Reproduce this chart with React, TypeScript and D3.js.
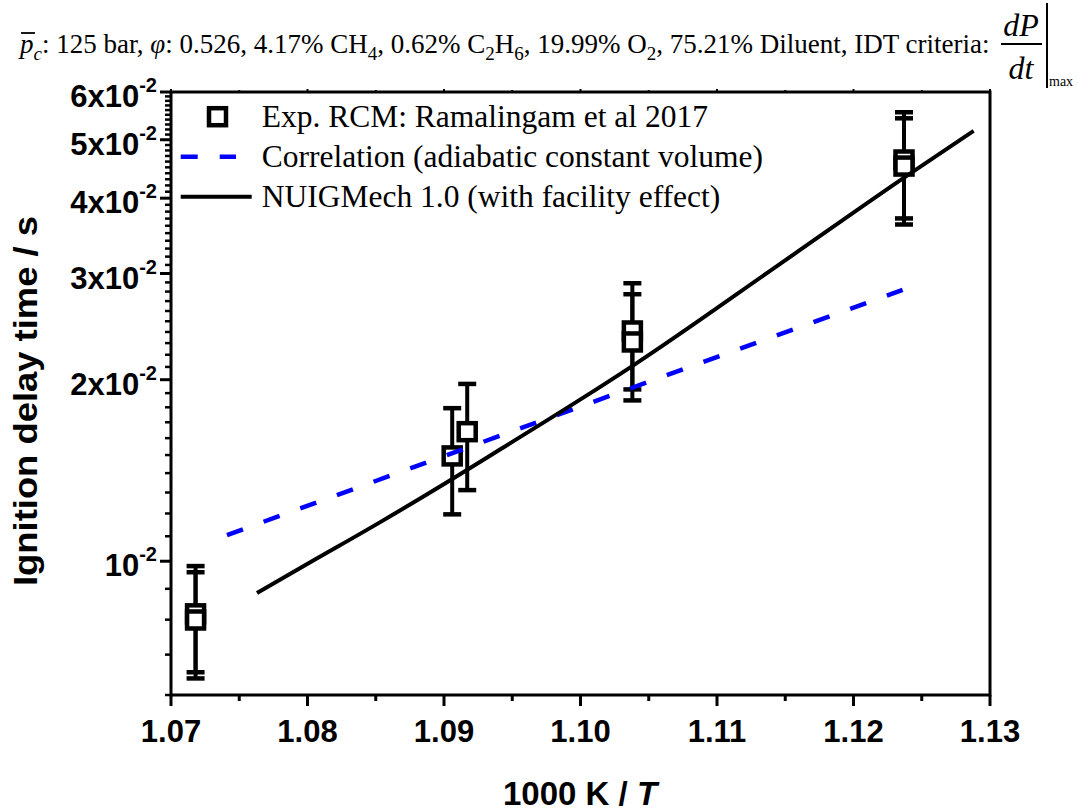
import React from 'react';
import * as d3 from 'd3';

// ---------- data ----------
const expX = [1.0718, 1.0718, 1.0906, 1.0917, 1.1038, 1.1038, 1.1237, 1.1237];
const expIDT = [0.00818, 0.00799, 0.01495, 0.0164, 0.02409, 0.0231, 0.04628, 0.04522];
const expRelErr = [0.2, 0.2, 0.2, 0.2, 0.2, 0.2, 0.2, 0.2];

const mechX = [1.0763, 1.0802, 1.0853, 1.0904, 1.0941, 1.1, 1.1039, 1.1146, 1.1236, 1.1288];
const mechIDT = [0.00886, 0.00996, 0.0116, 0.0136, 0.01532, 0.01855, 0.02115, 0.0311, 0.0431, 0.05171];

const corrX = [1.0741, 1.1003, 1.1236];
const corrIDT = [0.01105, 0.01816, 0.02818];

const xTicks = [1.07, 1.08, 1.09, 1.1, 1.11, 1.12, 1.13];
const xTickLabels = ['1.07', '1.08', '1.09', '1.10', '1.11', '1.12', '1.13'];
const xMinorTicks = [1.075, 1.085, 1.095, 1.105, 1.115, 1.125];
const yMajorTicks = [0.01, 0.02, 0.03, 0.04, 0.05, 0.06];
const yTickMantissa = ['', '2x', '3x', '4x', '5x', '6x'];
const yTickExp = '-2';

const legendLabels = [
  'Exp. RCM: Ramalingam et al 2017',
  'Correlation (adiabatic constant volume)',
  'NUIGMech 1.0 (with facility effect)',
];

const W = 1078;
const H = 812;
const L = 171, R = 990, T = 92, B = 695;

const serif = '"Liberation Serif", "Times New Roman", serif';
const sans = '"Liberation Sans", Arial, sans-serif';

export default function App() {
  const x = d3.scaleLinear().domain([1.07, 1.13]).range([L, R]);
  const y = d3.scaleLog().domain([0.006, 0.06]).range([B, T]);

  const yMinor = d3
    .range(6, 61)
    .map((i) => i / 1000)
    .filter((v) => !yMajorTicks.some((m) => Math.abs(m - v) < 1e-9));

  const mechLine = d3
    .line<number>()
    .x((_, i) => x(mechX[i]))
    .y((_, i) => y(mechIDT[i]))
    .curve(d3.curveMonotoneX);
  const corrLine = d3
    .line<number>()
    .x((_, i) => x(corrX[i]))
    .y((_, i) => y(corrIDT[i]));

  const sq = 17;
  const capW = 18;

  const titleSize = 27;
  const subSize = 19;

  return (
    <svg width={W} height={H} style={{ position: 'absolute', left: 0, top: 0, background: '#fff' }}>
      <rect x={0} y={0} width={W} height={H} fill="#fff" />
      {/* title */}
      <g fontFamily={serif} fill="#000">
        <text x={20} y={53} fontSize={titleSize}>
          <tspan fontStyle="italic">p</tspan>
          <tspan fontStyle="italic" fontSize={subSize} dy={7}>c</tspan>
          <tspan dy={-7}>: 125 bar, </tspan>
          <tspan fontStyle="italic">φ</tspan>
          <tspan>: 0.526, 4.17% CH</tspan>
          <tspan fontSize={subSize} dy={7}>4</tspan>
          <tspan dy={-7}>, 0.62% C</tspan>
          <tspan fontSize={subSize} dy={7}>2</tspan>
          <tspan dy={-7}>H</tspan>
          <tspan fontSize={subSize} dy={7}>6</tspan>
          <tspan dy={-7}>, 19.99% O</tspan>
          <tspan fontSize={subSize} dy={7}>2</tspan>
          <tspan dy={-7}>, 75.21% Diluent, IDT criteria:</tspan>
        </text>
        <line x1={21} x2={35} y1={33} y2={33} stroke="#000" strokeWidth={1.8} />
        <text x={1021} y={36} fontSize={32} fontStyle="italic" textAnchor="middle">dP</text>
        <line x1={1001} x2={1042} y1={44} y2={44} stroke="#000" strokeWidth={2} />
        <text x={1021} y={79} fontSize={32} fontStyle="italic" textAnchor="middle">dt</text>
        <line x1={1047} x2={1047} y1={3} y2={88} stroke="#000" strokeWidth={2} />
        <text x={1049} y={86} fontSize={14}>max</text>
      </g>

      {/* axes frame */}
      <rect x={L} y={T} width={R - L} height={B - T} fill="none" stroke="#000" strokeWidth={3} />

      {/* x ticks */}
      {xTicks.map((t, i) => (
        <g key={'xt' + i}>
          <line x1={x(t)} x2={x(t)} y1={B} y2={B + 11} stroke="#000" strokeWidth={3} />
          <line x1={x(t)} x2={x(t)} y1={T} y2={T - 3} stroke="#000" strokeWidth={2} />
          <text x={x(t)} y={742} fontFamily={sans} fontWeight="bold" fontSize={31} textAnchor="middle">
            {xTickLabels[i]}
          </text>
        </g>
      ))}
      {xMinorTicks.map((t, i) => (
        <g key={'xm' + i}>
          <line x1={x(t)} x2={x(t)} y1={B} y2={B + 6} stroke="#000" strokeWidth={3} />
          <line x1={x(t)} x2={x(t)} y1={T} y2={T - 2} stroke="#000" strokeWidth={2} />
        </g>
      ))}

      {/* y ticks */}
      {yMinor.map((t, i) => (
        <line key={'ym' + i} x1={L - 6} x2={L} y1={y(t)} y2={y(t)} stroke="#000" strokeWidth={2.5} />
      ))}
      {yMajorTicks.map((t, i) => (
        <g key={'yt' + i}>
          <line x1={L - 11} x2={L} y1={y(t)} y2={y(t)} stroke="#000" strokeWidth={3} />
          <text x={157} y={y(t) + 15} fontFamily={sans} fontWeight="bold" fontSize={31} textAnchor="end">
            <tspan>{yTickMantissa[i] + '10'}</tspan>
            <tspan fontSize={20} dy={-15}>{yTickExp}</tspan>
          </text>
        </g>
      ))}

      {/* axis titles */}
      <text x={580} y={805} fontFamily={sans} fontWeight="bold" fontSize={33} textAnchor="middle">
        <tspan>1000 K / </tspan>
        <tspan fontStyle="italic">T</tspan>
      </text>
      <text
        transform={`translate(37, 401) rotate(-90)`}
        fontFamily={sans}
        fontWeight="bold"
        fontSize={33}
        textAnchor="middle"
        textLength={370}
        lengthAdjust="spacingAndGlyphs"
      >
        Ignition delay time / s
      </text>

      {/* error bars */}
      <g stroke="#000" strokeWidth={4}>
        {expX.map((v, i) => {
          const cx = x(v);
          const yHi = y(expIDT[i] * (1 + expRelErr[i]));
          const yLo = y(expIDT[i] * (1 - expRelErr[i]));
          return (
            <g key={'eb' + i}>
              <line x1={cx} x2={cx} y1={yHi} y2={yLo} />
              <line x1={cx - capW / 2} x2={cx + capW / 2} y1={yHi} y2={yHi} strokeWidth={4.5} />
              <line x1={cx - capW / 2} x2={cx + capW / 2} y1={yLo} y2={yLo} strokeWidth={4.5} />
            </g>
          );
        })}
      </g>
      {/* squares */}
      {expX.map((v, i) => (
        <rect
          key={'sq' + i}
          x={x(v) - sq / 2}
          y={y(expIDT[i]) - sq / 2}
          width={sq}
          height={sq}
          fill="#fff"
          stroke="#000"
          strokeWidth={4.5}
        />
      ))}

      {/* lines */}
      <path d={corrLine(corrX) || ''} fill="none" stroke="#0000ff" strokeWidth={4.5} strokeDasharray="17 22" />
      <path d={mechLine(mechX) || ''} fill="none" stroke="#000" strokeWidth={4} />

      {/* legend */}
      <rect x={217.5 - sq / 2} y={116.7 - sq / 2} width={sq} height={sq} fill="#fff" stroke="#000" strokeWidth={4.5} />
      <line x1={180.7} x2={236} y1={156.7} y2={156.7} stroke="#0000ff" strokeWidth={4.5} strokeDasharray="17 22" />
      <line x1={180.7} x2={251.7} y1={196.7} y2={196.7} stroke="#000" strokeWidth={4} />
      {legendLabels.map((s, i) => (
        <text key={'lg' + i} x={261.7} y={127 + i * 40} fontFamily={serif} fontSize={31.5} fill="#000">
          {s}
        </text>
      ))}
    </svg>
  );
}
